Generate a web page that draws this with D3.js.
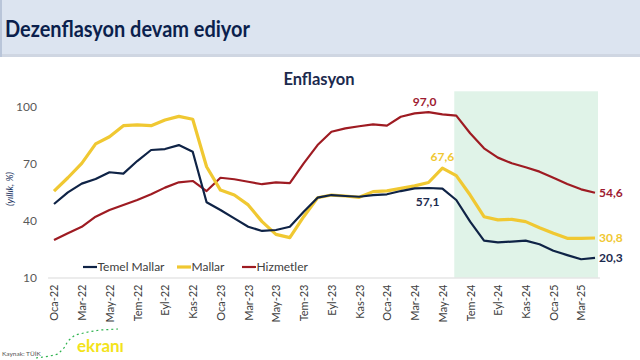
<!DOCTYPE html>
<html>
<head>
<meta charset="utf-8">
<script src="https://cdn.jsdelivr.net/npm/d3@7"></script>
<style>
  html, body { margin: 0; padding: 0; background: #ffffff; }
  svg { display: block; }
</style>
</head>
<body>
<svg id="chart" width="640" height="360"></svg>
<script>
// ---- DATA ----
const months = [
  "Oca-22","Şub-22","Mar-22","Nis-22","May-22","Haz-22","Tem-22","Ağu-22","Eyl-22","Eki-22","Kas-22","Ara-22",
  "Oca-23","Şub-23","Mar-23","Nis-23","May-23","Haz-23","Tem-23","Ağu-23","Eyl-23","Eki-23","Kas-23","Ara-23",
  "Oca-24","Şub-24","Mar-24","Nis-24","May-24","Haz-24","Tem-24","Ağu-24","Eyl-24","Eki-24","Kas-24","Ara-24",
  "Oca-25","Şub-25","Mar-25","Nis-25"
];
const temelMallar = [
  48.7,54.8,59.4,61.8,65.4,64.7,71.3,77.1,77.6,79.7,76.2,49.6,
  45.5,41.1,36.7,34.5,35.0,36.7,44.6,52.0,53.4,52.9,52.5,53.4,
  53.8,55.5,56.9,57.1,56.8,50.8,39.4,29.4,28.5,28.9,29.4,27.5,
  24.1,21.8,19.6,20.3
];
const mallar = [
  55.5,62.5,70.1,80.3,84.1,89.9,90.3,89.9,92.9,94.8,93.3,68.3,
  56.0,53.4,48.2,39.4,32.7,31.0,42.0,52.0,53.4,52.9,52.2,55.2,
  55.6,56.9,58.2,60.0,67.6,63.6,53.4,42.0,40.3,40.6,39.4,36.2,
  33.3,30.6,30.6,30.8
];
const hizmetler = [
  29.7,33.3,36.7,42.0,45.5,48.2,50.8,53.8,57.3,60.1,60.8,55.5,
  62.5,61.7,60.4,59.1,60.1,59.7,70.1,79.7,86.7,88.5,89.6,90.6,
  89.9,94.6,96.4,97.0,95.9,95.2,85.9,78.0,73.1,70.1,68.0,65.7,
  62.5,59.2,56.4,54.6
];
const seriesNames = ["Temel Mallar","Mallar","Hizmetler"];
const seriesColors = ["#0f2346","#f0c832","#9e1b22"];
const seriesWidths = [2.2, 3.2, 2.2];
const yTicks = [10, 40, 70, 100];
const xTickLabels = months.filter((m, i) => i % 2 === 0);
const shadeStart = "Haz-24", shadeEnd = "Nis-25";
// point labels: [series index, month, text]
const pointLabels = [
  [2, "Nis-24", "97,0"],
  [1, "May-24", "67,6"],
  [0, "Nis-24", "57,1"]
];
const endLabels = ["20,3", "30,8", "54,6"];

// ---- LAYOUT ----
const svg = d3.select("#chart");
const font = "Lato, 'Open Sans', sans-serif";
const W = 640, H = 360;

// header
svg.append("rect").attr("x", 0).attr("y", 0).attr("width", W).attr("height", 57).attr("fill", "#dce4f0");
svg.append("rect").attr("x", 0).attr("y", 54).attr("width", W).attr("height", 3).attr("fill", "#cfd6e2");
svg.append("rect").attr("x", 0).attr("y", 0).attr("width", 2).attr("height", 57).attr("fill", "#b9c5d9");
svg.append("text").attr("x", 5).attr("y", 37)
  .attr("font-family", font).attr("font-weight", 700).attr("font-size", 23)
  .attr("fill", "#0b1f4d")
  .attr("textLength", 245).attr("lengthAdjust", "spacingAndGlyphs")
  .text("Dezenflasyon devam ediyor");

// chart title
svg.append("text").attr("x", 319).attr("y", 85).attr("text-anchor", "middle")
  .attr("font-family", font).attr("font-weight", 700).attr("font-size", 16.5)
  .attr("fill", "#1c2a4e").text("Enflasyon");

// scales
const x = d3.scalePoint().domain(months).range([54, 595]);
const step = x.step();
const y = d3.scaleLinear().domain([10, 110]).range([277.5, 87.5]);

// shaded region
svg.append("rect")
  .attr("x", x(shadeStart) - 2)
  .attr("y", y(108))
  .attr("width", x(shadeEnd) - x(shadeStart) + 5)
  .attr("height", y(10) - y(108))
  .attr("fill", "#e0f3e8");

// y axis labels
svg.append("g").selectAll("text").data(yTicks).join("text")
  .attr("x", 37).attr("y", d => y(d)).attr("dy", "0.35em")
  .attr("text-anchor", "end")
  .attr("font-family", font).attr("font-size", 12).attr("fill", "#595959")
  .text(d => d);

// y axis title
svg.append("text")
  .attr("transform", "translate(13,189) rotate(-90)")
  .attr("text-anchor", "middle")
  .attr("font-family", font).attr("font-style", "italic").attr("font-size", 9.5)
  .attr("fill", "#1f3864").text("(yıllık, %)");

// x axis
const xAxis = d3.axisBottom(x).tickValues(xTickLabels).tickSize(0).tickPadding(0);
const gx = svg.append("g").attr("transform", `translate(0,${y(10)})`).call(xAxis);
gx.select(".domain").attr("d", `M${x(months[0]) - step / 2 + 1},0.5H${x(months[months.length - 1]) + step / 2 - 2}`)
  .attr("stroke", "#d9d9d9").attr("stroke-width", 1);
gx.selectAll(".tick text")
  .attr("transform", "rotate(-90)")
  .attr("x", -7).attr("y", 0).attr("dy", "0.35em")
  .attr("text-anchor", "end")
  .attr("font-family", font).attr("font-size", 11).attr("fill", "#404040");

// lines
const allSeries = [temelMallar, mallar, hizmetler];
const line = d3.line().x((d, i) => x(months[i])).y(d => y(d)).curve(d3.curveLinear);
// draw order: red, yellow, navy on top
[2, 1, 0].forEach(s => {
  svg.append("path").datum(allSeries[s])
    .attr("d", line)
    .attr("fill", "none")
    .attr("stroke", seriesColors[s])
    .attr("stroke-width", seriesWidths[s])
    .attr("stroke-linejoin", "round");
});

// point labels
const labelColors = ["#1c2a4e", "#f0c832", "#9e1b32"];
const labelOffsets = { 0: 14, 1: -11, 2: -10 };
pointLabels.forEach(([s, m, t]) => {
  const i = months.indexOf(m);
  svg.append("text")
    .attr("x", x(m) + (s === 2 ? -4 : s === 0 ? -1 : 0))
    .attr("y", y(allSeries[s][i]) + labelOffsets[s])
    .attr("dy", "0.35em").attr("text-anchor", "middle")
    .attr("font-family", font).attr("font-weight", 700).attr("font-size", 12)
    .attr("fill", labelColors[s]).text(t);
});
// end labels
allSeries.forEach((arr, s) => {
  const last = months[months.length - 1];
  svg.append("text")
    .attr("x", x(last) + 4)
    .attr("y", y(arr[arr.length - 1]))
    .attr("dy", "0.35em")
    .attr("font-family", font).attr("font-weight", 700).attr("font-size", 12)
    .attr("fill", labelColors[s]).text(endLabels[s]);
});

// legend
const legendX = [83, 177, 242];
const legendY = 267;
seriesNames.forEach((n, s) => {
  svg.append("line")
    .attr("x1", legendX[s]).attr("x2", legendX[s] + 14)
    .attr("y1", legendY).attr("y2", legendY)
    .attr("stroke", seriesColors[s]).attr("stroke-width", seriesWidths[s]);
  svg.append("text")
    .attr("x", legendX[s] + 14.5).attr("y", legendY).attr("dy", "0.35em")
    .attr("font-family", font).attr("font-size", 12).attr("fill", "#404040")
    .text(n);
});

// footer logo
svg.append("text").attr("x", 2).attr("y", 356)
  .attr("font-family", font).attr("font-size", 6.5).attr("fill", "#555").text("Kaynak: TÜİK");
svg.append("path")
  .attr("d", "M36,358 L50,356 L58,354 L64,348 L68,341 L75,335 L88,332 L100,330 L118,329")
  .attr("fill", "none").attr("stroke", "#2eb34f").attr("stroke-width", 1.2)
  .attr("stroke-dasharray", "2,3");
svg.append("text").attr("x", 77).attr("y", 352)
  .attr("font-family", font).attr("font-weight", 700).attr("font-size", 17)
  .attr("fill", "#f3e31b").text("ekranı");
</script>
</body>
</html>
